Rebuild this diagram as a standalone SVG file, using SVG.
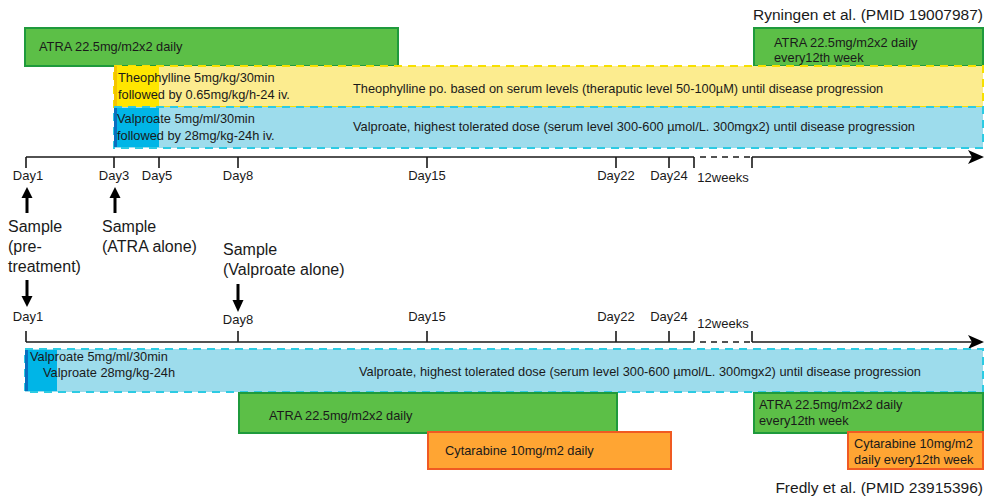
<svg xmlns="http://www.w3.org/2000/svg" width="991" height="499" viewBox="0 0 991 499">
  <style>
    text { font-family: "Liberation Sans", Arial, sans-serif; fill: #1a1a1a; }
    .lbl { font-size: 12.8px; }
    .day { font-size: 13px; }
    .big { font-size: 16px; }
    .ref { font-size: 15.5px; }
    .atra { fill: #5cbf47; stroke: #1f9a3c; stroke-width: 2; }
    .cyta { fill: #ffa533; stroke: #f05a22; stroke-width: 2; }
    .theo { fill: #fcec8f; stroke: #f7e000; stroke-width: 2; stroke-dasharray: 8 6; }
    .valp { fill: #9ddcec; stroke: #2ccbe3; stroke-width: 2; stroke-dasharray: 8 6; }
    .axis { stroke: #1a1a1a; stroke-width: 1.6; fill: none; }
    .gap { stroke: #1a1a1a; stroke-width: 1.6; stroke-dasharray: 6 5; fill: none; }
    .shaft { stroke: #000; stroke-width: 3; fill: none; }
  </style>

  <!-- ===== Upper protocol (Ryningen) ===== -->
  <text class="ref" x="983" y="20" text-anchor="end">Ryningen et al. (PMID 19007987)</text>

  <g id="atra-top-1">
    <rect class="atra" x="25" y="28" width="373" height="38"/>
    <text class="lbl" x="39" y="51">ATRA 22.5mg/m2x2 daily</text>
  </g>
  <g id="atra-top-2">
    <rect class="atra" x="754" y="28" width="229" height="38"/>
    <text class="lbl" x="774" y="47">ATRA 22.5mg/m2x2 daily</text>
    <text class="lbl" x="774" y="62">every12th week</text>
  </g>

  <g id="theophylline-top">
    <rect class="theo" x="114" y="66" width="869" height="41"/>
    <rect x="114" y="66" width="45" height="41" fill="#ffe600"/>
    <rect x="114" y="66" width="3" height="41" fill="#f5c400"/>
    <text class="lbl" x="118" y="82">Theophylline 5mg/kg/30min</text>
    <text class="lbl" x="118" y="99">followed by 0.65mg/kg/h-24 iv.</text>
    <text class="lbl" x="353" y="93">Theophylline po. based on serum levels (theraputic level 50-100µM) until disease progression</text>
  </g>

  <g id="valproate-top">
    <rect class="valp" x="114" y="107" width="869" height="41"/>
    <rect x="114" y="108" width="45" height="39" fill="#00b5e7"/>
    <rect x="114" y="108" width="3" height="39" fill="#0a6fbf"/>
    <text class="lbl" x="117" y="123">Valproate 5mg/ml/30min</text>
    <text class="lbl" x="117" y="140">followed by 28mg/kg-24h iv.</text>
    <text class="lbl" x="353" y="131">Valproate, highest tolerated dose (serum level 300-600 µmol/L. 300mgx2) until disease progression</text>
  </g>

  <!-- upper time axis -->
  <g id="axis-top">
    <path class="axis" d="M26 157H694M752 157H972"/>
    <path class="gap" d="M700 157H750"/>
    <polygon points="984,157 968,150 972,157 968,164" fill="#000"/>
    <path class="axis" d="M26 157V168M114 157V168M159 157V168M238 157V168M427 157V168M616 157V168M669 157V168M694 157V168M752 157V168"/>
    <text class="day" x="28" y="180" text-anchor="middle">Day1</text>
    <text class="day" x="114" y="180" text-anchor="middle">Day3</text>
    <text class="day" x="157" y="180" text-anchor="middle">Day5</text>
    <text class="day" x="238" y="180" text-anchor="middle">Day8</text>
    <text class="day" x="427" y="180" text-anchor="middle">Day15</text>
    <text class="day" x="616" y="180" text-anchor="middle">Day22</text>
    <text class="day" x="669" y="180" text-anchor="middle">Day24</text>
    <text class="day" x="723" y="182" text-anchor="middle">12weeks</text>
  </g>

  <!-- sampling points -->
  <g id="sample-pre">
    <text class="big" x="8" y="232">Sample</text>
    <text class="big" x="8" y="252">(pre-</text>
    <text class="big" x="8" y="272">treatment)</text>
  </g>
  <g id="sample-atra">
    <text class="big" x="102" y="232">Sample</text>
    <text class="big" x="102" y="252">(ATRA alone)</text>
  </g>
  <g id="sample-valproate">
    <text class="big" x="223" y="255">Sample</text>
    <text class="big" x="223" y="275">(Valproate alone)</text>
  </g>

  <g id="connectors">
    <path class="shaft" d="M27 213V196"/>
    <polygon points="27,187 21.5,198 32.5,198" fill="#000"/>
    <path class="shaft" d="M115 213V196"/>
    <polygon points="115,187 109.5,198 120.5,198" fill="#000"/>
    <path class="shaft" d="M27 280V297"/>
    <polygon points="27,307 21.5,296 32.5,296" fill="#000"/>
    <path class="shaft" d="M238 284V301"/>
    <polygon points="238,312 232.5,300 243.5,300" fill="#000"/>
  </g>

  <!-- ===== Lower protocol (Fredly) ===== -->
  <g id="axis-bottom">
    <text class="day" x="28" y="321" text-anchor="middle">Day1</text>
    <text class="day" x="238" y="324" text-anchor="middle">Day8</text>
    <text class="day" x="427" y="321" text-anchor="middle">Day15</text>
    <text class="day" x="616" y="321" text-anchor="middle">Day22</text>
    <text class="day" x="669" y="321" text-anchor="middle">Day24</text>
    <text class="day" x="723" y="328" text-anchor="middle">12weeks</text>
    <path class="axis" d="M26 342H694M752 342H972"/>
    <path class="gap" d="M700 342H750"/>
    <polygon points="984,342 968,335 972,342 968,349" fill="#000"/>
    <path class="axis" d="M26 331V342M238 331V342M427 331V342M616 331V342M669 331V342M694 331V342M752 331V342"/>
  </g>

  <g id="valproate-bottom">
    <rect class="valp" x="25" y="349" width="958" height="43"/>
    <rect x="25" y="350" width="32" height="41" fill="#00b5e7"/>
    <rect x="25" y="350" width="3" height="41" fill="#0a6fbf"/>
    <text class="lbl" x="30" y="361">Valproate 5mg/ml/30min</text>
    <text class="lbl" x="43" y="377">Valproate 28mg/kg-24h</text>
    <text class="lbl" x="359" y="376">Valproate, highest tolerated dose (serum level 300-600 µmol/L. 300mgx2) until disease progression</text>
  </g>

  <g id="atra-bottom-1">
    <rect class="atra" x="239" y="393" width="378" height="40"/>
    <text class="lbl" x="269" y="420">ATRA 22.5mg/m2x2 daily</text>
  </g>
  <g id="atra-bottom-2">
    <rect class="atra" x="754" y="393" width="229" height="40"/>
    <text class="lbl" x="759" y="409">ATRA 22.5mg/m2x2 daily</text>
    <text class="lbl" x="759" y="425">every12th week</text>
  </g>

  <g id="cytarabine-1">
    <rect class="cyta" x="428" y="432" width="243" height="37"/>
    <text class="lbl" x="445" y="455">Cytarabine 10mg/m2 daily</text>
  </g>
  <g id="cytarabine-2">
    <rect class="cyta" x="848" y="432" width="135" height="37"/>
    <text class="lbl" x="854" y="448">Cytarabine 10mg/m2</text>
    <text class="lbl" x="854" y="464">daily every12th week</text>
  </g>

  <text class="ref" x="983" y="493" text-anchor="end">Fredly et al. (PMID 23915396)</text>
</svg>
